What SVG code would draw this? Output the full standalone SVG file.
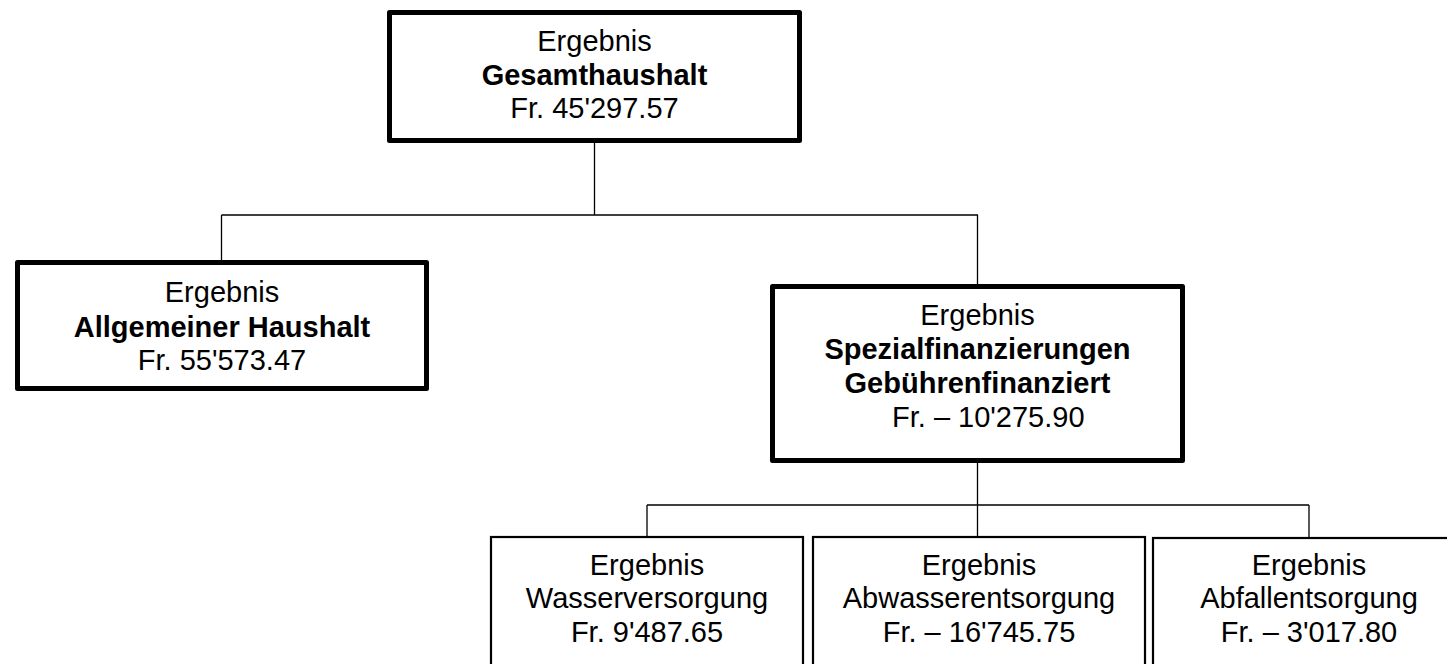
<svg xmlns="http://www.w3.org/2000/svg" width="1447" height="664" viewBox="0 0 1447 664">
<style>
text{font-family:"Liberation Sans",Arial,sans-serif;font-size:29px;fill:#000;text-anchor:middle}
.b{font-weight:bold}
.thick{fill:#fff;stroke:#000;stroke-width:5;stroke-linejoin:round}
.thin{fill:#fff;stroke:#000;stroke-width:2.2}
.con{fill:none;stroke:#000;stroke-width:1.3}
</style>
<rect width="1447" height="664" fill="#fff"/>
<g id="connectors">
<path class="con" d="M594.5 143V215M221.5 215H978M221.5 215V260M977.5 215V284"/>
<path class="con" d="M977.5 463V536M647 505H1309M647 505V536M1309 505V537"/>
</g>
<g id="n-gesamt">
<rect class="thick" x="389.5" y="12.5" width="410" height="128"/>
<text x="594.5" y="51">Ergebnis</text>
<text class="b" x="594.5" y="85">Gesamthaushalt</text>
<text x="594.5" y="118">Fr. 45'297.57</text>
</g>
<g id="n-allgemein">
<rect class="thick" x="17.5" y="262.5" width="409" height="126"/>
<text x="222" y="302">Ergebnis</text>
<text class="b" x="222" y="337">Allgemeiner Haushalt</text>
<text x="222" y="370">Fr. 55'573.47</text>
</g>
<g id="n-spezial">
<rect class="thick" x="772.5" y="286.5" width="410" height="174"/>
<text x="977.5" y="325">Ergebnis</text>
<text class="b" x="977.5" y="359">Spezialfinanzierungen</text>
<text class="b" x="977.5" y="393">Gebührenfinanziert</text>
<text x="892" y="427" style="text-anchor:start">Fr. – 10'275.90</text>
</g>
<g id="n-wasser">
<rect class="thin" x="491" y="537" width="312" height="140"/>
<text x="647" y="575">Ergebnis</text>
<text x="647" y="608">Wasserversorgung</text>
<text x="647" y="642">Fr. 9'487.65</text>
</g>
<g id="n-abwasser">
<rect class="thin" x="813" y="537" width="332" height="140"/>
<text x="979" y="575">Ergebnis</text>
<text x="979" y="608">Abwasserentsorgung</text>
<text x="979" y="642">Fr. – 16'745.75</text>
</g>
<g id="n-abfall">
<rect class="thin" x="1153" y="538" width="320" height="140"/>
<text x="1309" y="575">Ergebnis</text>
<text x="1309" y="608">Abfallentsorgung</text>
<text x="1309" y="642">Fr. – 3'017.80</text>
</g>
</svg>
